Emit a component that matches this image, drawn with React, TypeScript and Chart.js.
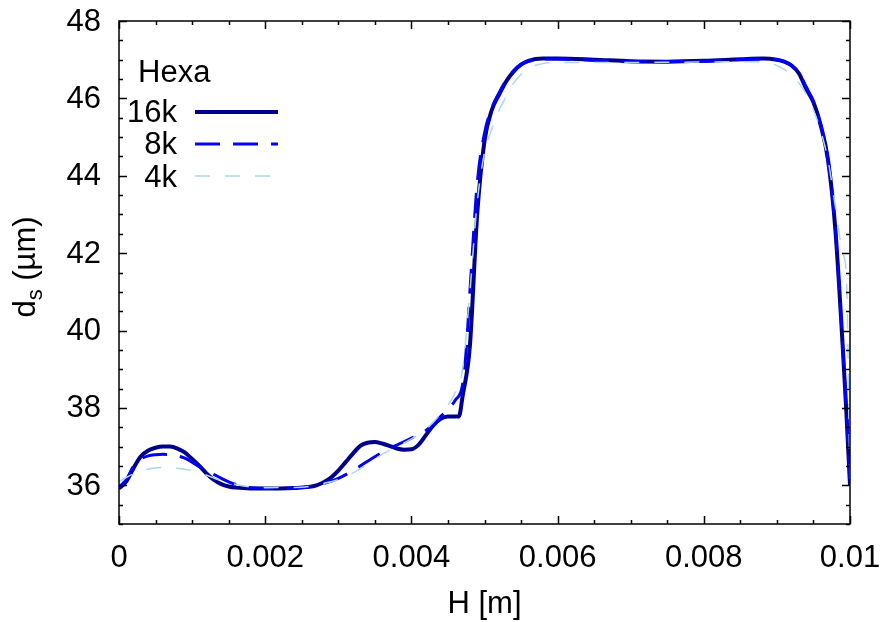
import React, { useEffect, useRef } from "react";
import { Chart, registerables } from "chart.js";

Chart.register(...registerables);

// ---------- data ----------
const h16k = [0, 0.0001, 0.0002, 0.0003, 0.0004, 0.0005, 0.0006, 0.0007, 0.0008, 0.0009, 0.001, 0.0011, 0.0012, 0.0013, 0.0014, 0.0015, 0.0016, 0.0018, 0.002, 0.0022, 0.0024, 0.0026, 0.0027, 0.0028, 0.0029, 0.003, 0.0031, 0.0032, 0.0033, 0.0034, 0.0035, 0.0036, 0.0037, 0.0038, 0.0039, 0.004, 0.0041, 0.0042, 0.0043, 0.0044, 0.0045, 0.0046, 0.00465, 0.0047, 0.0048, 0.0049, 0.005, 0.0051, 0.0052, 0.0053, 0.0054, 0.0055, 0.0056, 0.0058, 0.006, 0.0065, 0.007, 0.0075, 0.008, 0.0085, 0.0088, 0.009, 0.0091, 0.0092, 0.0093, 0.0094, 0.0095, 0.0096, 0.0097, 0.0098, 0.0099, 0.00995, 0.01];
const d16k = [35.92, 36.1, 36.45, 36.75, 36.9, 36.97, 37.0, 37.0, 36.95, 36.85, 36.68, 36.5, 36.3, 36.14, 36.03, 35.97, 35.94, 35.92, 35.92, 35.92, 35.93, 35.96, 36.0, 36.08, 36.2, 36.38, 36.6, 36.82, 37.02, 37.1, 37.12, 37.08, 37.02, 36.95, 36.92, 36.93, 37.05, 37.3, 37.55, 37.72, 37.78, 37.78, 37.78, 38.3, 39.6, 43.0, 44.9, 45.7, 46.1, 46.45, 46.7, 46.87, 46.97, 47.03, 47.03, 47.0, 46.96, 46.95, 46.97, 47.01, 47.03, 47.0, 46.95, 46.85, 46.65, 46.25, 45.9, 45.3, 44.4, 42.6, 39.6, 37.9, 36.0];

const h8k = [0, 0.0001, 0.0002, 0.0003, 0.0004, 0.0005, 0.0006, 0.0007, 0.0008, 0.0009, 0.001, 0.0011, 0.0012, 0.0013, 0.0014, 0.0015, 0.0016, 0.0017, 0.0018, 0.002, 0.0024, 0.0026, 0.0028, 0.003, 0.0032, 0.0034, 0.0036, 0.0038, 0.004, 0.0042, 0.0044, 0.0046, 0.0047, 0.00475, 0.0048, 0.0049, 0.005, 0.0051, 0.0052, 0.0053, 0.0054, 0.0055, 0.0056, 0.0058, 0.006, 0.007, 0.008, 0.0088, 0.009, 0.0091, 0.0092, 0.0093, 0.0094, 0.0095, 0.0096, 0.0097, 0.0098, 0.0099, 0.00995, 0.01];
const d8k = [35.95, 36.15, 36.5, 36.68, 36.76, 36.79, 36.8, 36.79, 36.76, 36.7, 36.6, 36.48, 36.38, 36.28, 36.18, 36.09, 36.02, 35.97, 35.94, 35.92, 35.93, 35.96, 36.05, 36.18, 36.38, 36.62, 36.85, 37.04, 37.22, 37.42, 37.78, 38.2, 38.6, 39.5, 41.0, 43.8, 45.1, 45.75, 46.15, 46.48, 46.72, 46.88, 46.96, 47.02, 47.02, 46.95, 46.96, 47.02, 47.0, 46.95, 46.85, 46.65, 46.3, 45.9, 45.3, 44.4, 42.6, 39.6, 37.9, 36.0];

const h4k = [0, 0.0002, 0.0004, 0.0006, 0.0008, 0.001, 0.0012, 0.0014, 0.0016, 0.0018, 0.002, 0.0025, 0.0028, 0.003, 0.0032, 0.0034, 0.0036, 0.0038, 0.004, 0.0042, 0.0044, 0.0046, 0.0047, 0.0048, 0.0049, 0.005, 0.0051, 0.0052, 0.0053, 0.0054, 0.0055, 0.0056, 0.0058, 0.006, 0.007, 0.008, 0.0088, 0.009, 0.0091, 0.0092, 0.0093, 0.0094, 0.0095, 0.0096, 0.0097, 0.0098, 0.0099, 0.00995, 0.01];
const d4k = [36.1, 36.3, 36.42, 36.46, 36.44, 36.38, 36.26, 36.12, 36.02, 35.96, 35.94, 35.95, 36.05, 36.15, 36.32, 36.55, 36.8, 37.0, 37.2, 37.45, 37.85, 38.4, 39.0, 41.0, 43.3, 44.6, 45.2, 45.7, 46.05, 46.4, 46.62, 46.78, 46.9, 46.93, 46.93, 46.94, 46.95, 46.85, 46.75, 46.62, 46.4, 46.1, 45.7, 45.15, 44.4, 43.2, 42.0, 41.4, 36.0];

const seriesNames = ["16k", "8k", "4k"];
const legendTitle = "Hexa";
const xTickValues = [0, 0.002, 0.004, 0.006, 0.008, 0.01];
const xTickLabels = ["0", "0.002", "0.004", "0.006", "0.008", "0.01"];
const yTickValues = [36, 38, 40, 42, 44, 46, 48];
const yTickLabels = ["36", "38", "40", "42", "44", "46", "48"];
const xMinorStep = 0.0005;
const yMinorStep = 0.5;
const xTitle = "H [m]";

// ---------- styles ----------
const FONT = "'Liberation Sans', Arial, Helvetica, sans-serif";
const colors = ["#00008b", "#0000ff", "#add8e6"];
const widths = [4, 3, 1.5];
const dashes: number[][] = [[], [25, 13], [15, 15]];

const toPoints = (xs: number[], ys: number[]) => xs.map((x, i) => ({ x, y: ys[i] }));

const framePlugin = {
  id: "frameTicks",
  afterDraw(chart: any) {
    const { ctx, chartArea } = chart;
    const { left, right, top, bottom } = chartArea;
    const xs = chart.scales.x;
    const ys = chart.scales.y;
    ctx.save();
    ctx.strokeStyle = "#000";
    ctx.lineWidth = 1.5;
    ctx.beginPath();
    const nx = Math.round((xs.max - xs.min) / xMinorStep);
    for (let i = 0; i <= nx; i++) {
      const v = xs.min + i * xMinorStep;
      const major = i % 4 === 0;
      const len = major ? 8 : 4;
      const px = Math.round(xs.getPixelForValue(v)) + 0.5;
      ctx.moveTo(px, bottom);
      ctx.lineTo(px, bottom - len);
      ctx.moveTo(px, top);
      ctx.lineTo(px, top + len);
    }
    const ny = Math.round((ys.max - ys.min) / yMinorStep);
    for (let i = 0; i <= ny; i++) {
      const v = ys.min + i * yMinorStep;
      const major = Math.abs(v % 2) < 1e-6;
      const len = major ? 8 : 4;
      const py = Math.round(ys.getPixelForValue(v)) + 0.5;
      ctx.moveTo(left, py);
      ctx.lineTo(left + len, py);
      ctx.moveTo(right, py);
      ctx.lineTo(right - len, py);
    }
    ctx.stroke();
    ctx.strokeRect(left, top, right - left, bottom - top);

    ctx.fillStyle = "#000";
    ctx.font = `31px ${FONT}`;

    // tick labels
    ctx.textAlign = "center";
    ctx.textBaseline = "alphabetic";
    xTickValues.forEach((v, i) => {
      ctx.fillText(xTickLabels[i], xs.getPixelForValue(v), 567);
    });
    ctx.textAlign = "right";
    ctx.textBaseline = "middle";
    yTickValues.forEach((v, i) => {
      ctx.fillText(yTickLabels[i], 101, ys.getPixelForValue(v) + 1);
    });

    // axis titles
    ctx.textAlign = "center";
    ctx.textBaseline = "alphabetic";
    ctx.fillText(xTitle, (left + right) / 2, 613);

    ctx.save();
    ctx.translate(35, 267);
    ctx.rotate(-Math.PI / 2);
    ctx.textAlign = "left";
    const bigFont = `31px ${FONT}`;
    const subFont = `22px ${FONT}`;
    ctx.font = bigFont;
    const wD = ctx.measureText("d").width;
    const wRest = ctx.measureText(" (µm)").width;
    ctx.font = subFont;
    const wS = ctx.measureText("s").width;
    const total = wD + wS + wRest;
    let cx = -total / 2;
    ctx.font = bigFont;
    ctx.fillText("d", cx, 0);
    cx += wD;
    ctx.font = subFont;
    ctx.fillText("s", cx, 7);
    cx += wS;
    ctx.font = bigFont;
    ctx.fillText(" (µm)", cx, 0);
    ctx.restore();

    // legend
    ctx.font = `31px ${FONT}`;
    ctx.textAlign = "left";
    ctx.fillText(legendTitle, 138, 82);
    const baseY = [122, 154, 187];
    const lineY = [112, 144, 176];
    for (let i = 0; i < 3; i++) {
      ctx.textAlign = "right";
      ctx.fillStyle = "#000";
      ctx.fillText(seriesNames[i], 177, baseY[i]);
      ctx.beginPath();
      ctx.strokeStyle = colors[i];
      ctx.lineWidth = widths[i];
      ctx.setLineDash(dashes[i]);
      ctx.moveTo(195, lineY[i]);
      ctx.lineTo(278, lineY[i]);
      ctx.stroke();
    }
    ctx.setLineDash([]);
    ctx.restore();
  },
};

export default function App() {
  const ref = useRef<HTMLCanvasElement | null>(null);
  useEffect(() => {
    document.body.style.margin = "0";
    const canvas = ref.current;
    if (!canvas) return;
    const mk = (i: number, xs: number[], ys: number[], order: number) => ({
      label: seriesNames[i],
      data: toPoints(xs, ys),
      borderColor: colors[i],
      backgroundColor: colors[i],
      borderWidth: widths[i],
      borderDash: dashes[i],
      borderJoinStyle: "round",
      pointRadius: 0,
      cubicInterpolationMode: "monotone",
      fill: false,
      order,
    });
    const chart = new Chart(canvas, {
      type: "line",
      data: {
        datasets: [mk(0, h16k, d16k, 3), mk(1, h8k, d8k, 2), mk(2, h4k, d4k, 1)] as any,
      },
      options: {
        responsive: false,
        animation: false,
        devicePixelRatio: 1,
        layout: { padding: { left: 0, top: 21, right: 35, bottom: 0 } },
        plugins: { legend: { display: false }, tooltip: { enabled: false } },
        scales: {
          x: {
            type: "linear",
            min: 0,
            max: 0.01,
            grid: { display: false },
            border: { display: false },
            ticks: { display: false },
            afterFit: (s: any) => {
              s.height = 98;
            },
          },
          y: {
            type: "linear",
            min: 35,
            max: 48,
            grid: { display: false },
            border: { display: false },
            ticks: { display: false },
            afterFit: (s: any) => {
              s.width = 119;
            },
          },
        },
      },
      plugins: [framePlugin],
    } as any);
    return () => chart.destroy();
  }, []);
  return (
    <div style={{ position: "absolute", left: 0, top: 0, width: 885, height: 622, background: "#fff" }}>
      <canvas ref={ref} width={885} height={622} style={{ width: 885, height: 622 }} />
    </div>
  );
}
